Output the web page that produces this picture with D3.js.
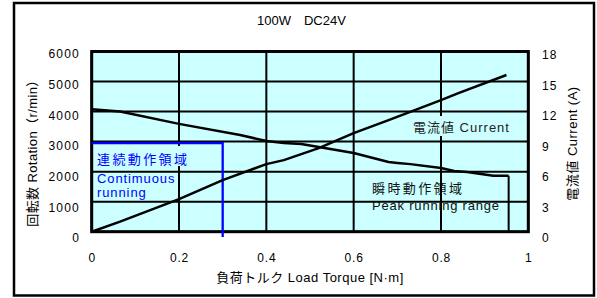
<!DOCTYPE html>
<html>
<head>
<meta charset="utf-8">
<script src="https://cdn.jsdelivr.net/npm/d3@7"></script>
<style>
body { margin: 0; background: #fff; }
text { font-family: "Liberation Sans", Arial, "Noto Sans CJK JP", sans-serif; fill: #000; }
</style>
</head>
<body>
<div id="chart"></div>
<script>
// Speed curve: rotation (r/min) against load torque (N·m)
const speedTorque = [0, 0.065, 0.2, 0.34, 0.4, 0.44, 0.48, 0.6, 0.68, 0.7, 0.73, 0.8, 0.83, 0.86, 0.92, 0.955];
const speedRpm = [4080, 4000, 3590, 3220, 3020, 2950, 2920, 2620, 2320, 2290, 2250, 2120, 2020, 1990, 1860, 1860];

// Current curve: current (A) against load torque (N·m)
const currentTorque = [0, 0.065, 0.2, 0.3, 0.4, 0.44, 0.52, 0.6, 0.68, 0.8, 0.84, 0.95];
const currentAmp = [0, 1.0, 3.25, 5.15, 6.75, 7.15, 8.35, 9.85, 11.15, 13.15, 13.85, 15.65];

// Regions
const continuousTorque = 0.3;
const continuousRpm = 2950;
const peakTorque = 0.955;

// Ticks
const xTicks = [0, 0.2, 0.4, 0.6, 0.8, 1];
const xTickLabels = ["0", "0.2", "0.4", "0.6", "0.8", "1"];
const rpmTicks = [0, 1000, 2000, 3000, 4000, 5000, 6000];
const ampTicks = [0, 3, 6, 9, 12, 15, 18];

const W = 597, H = 298;
const margin = { top: 51.5, right: W - 528.3, bottom: H - 231.7, left: 91.7 };
const width = W - margin.left - margin.right;
const height = H - margin.top - margin.bottom;

const svg = d3.select("#chart")
    .append("svg")
    .attr("width", W)
    .attr("height", H);

// outer frame
svg.append("rect")
    .attr("x", 14).attr("y", 3)
    .attr("width", 580).attr("height", 292.5)
    .attr("fill", "#fff")
    .attr("stroke", "#000")
    .attr("stroke-width", 2.5);

svg.append("text")
    .attr("x", 257).attr("y", 25)
    .style("font-size", "13px")
    .text("100W\u3000DC24V");

const g = svg.append("g")
    .attr("transform", `translate(${margin.left},${margin.top})`);

const x = d3.scaleLinear().domain([0, 1]).range([0, width]);
const yL = d3.scaleLinear().domain([0, 6000]).range([height, 0]);
const yR = d3.scaleLinear().domain([0, 18]).range([height, 0]);

// tick labels sit slightly off the gridlines in the original
const labelL = d3.scaleLinear().domain([0, 6000]).range([height + 6.3, 2.5]);
const labelR = d3.scaleLinear().domain([0, 18]).range([height + 6.3, 3.5]);

// plot background
g.append("rect")
    .attr("width", width).attr("height", height)
    .attr("fill", "#ccffff");

// peak region text (gridlines are drawn over it)
g.append("text")
    .attr("x", 372 - margin.left).attr("y", 193 - margin.top)
    .style("font-size", "13px").style("letter-spacing", "2.4px")
    .style("fill", "#111")
    .text("瞬時動作領域");
g.append("text")
    .attr("x", 372 - margin.left).attr("y", 210 - margin.top)
    .style("font-size", "13px").style("letter-spacing", "0.8px")
    .style("fill", "#111")
    .text("Peak running range");

// gridlines
g.selectAll(".hgrid")
    .data(rpmTicks)
    .enter()
    .append("line")
    .attr("class", "hgrid")
    .attr("x1", 0).attr("x2", width)
    .attr("y1", d => yL(d)).attr("y2", d => yL(d))
    .attr("stroke", "#000").attr("stroke-width", 2);

g.selectAll(".vgrid")
    .data(xTicks)
    .enter()
    .append("line")
    .attr("class", "vgrid")
    .attr("x1", d => x(d)).attr("x2", d => x(d))
    .attr("y1", 0).attr("y2", height)
    .attr("stroke", "#000").attr("stroke-width", 2);

g.append("rect")
    .attr("width", width).attr("height", height)
    .attr("fill", "none")
    .attr("stroke", "#000").attr("stroke-width", 3);

// continuous region
g.append("path")
    .attr("d", `M${x(0)},${yL(continuousRpm)}H${x(continuousTorque)}V${237 - margin.top}`)
    .attr("fill", "none")
    .attr("stroke", "#0000ff")
    .attr("stroke-width", 2.3);

g.append("rect")
    .attr("x", 94 - margin.left).attr("y", 146 - margin.top)
    .attr("width", 126).attr("height", 20)
    .attr("fill", "#ccffff");

g.append("text")
    .attr("x", 97 - margin.left).attr("y", 164 - margin.top)
    .style("font-size", "13px").style("letter-spacing", "2.4px")
    .style("fill", "#0000ff")
    .text("連続動作領域");
g.append("text")
    .attr("x", 97 - margin.left).attr("y", 182.5 - margin.top)
    .style("font-size", "13px").style("letter-spacing", "0.9px")
    .style("fill", "#0000ff")
    .text("Contimuous");
g.append("text")
    .attr("x", 97 - margin.left).attr("y", 197 - margin.top)
    .style("font-size", "13px").style("letter-spacing", "0.9px")
    .style("fill", "#0000ff")
    .text("running");

// current label box
g.append("rect")
    .attr("x", 409 - margin.left).attr("y", 116 - margin.top)
    .attr("width", 112).attr("height", 20)
    .attr("fill", "#ccffff");
g.append("text")
    .attr("x", 413 - margin.left).attr("y", 131.5 - margin.top)
    .style("font-size", "13px").style("letter-spacing", "1px")
    .style("fill", "#222")
    .text("電流値 Current");

// curves
const speedData = speedTorque.map((t, i) => ({ t: t, v: speedRpm[i] }));
const currentData = currentTorque.map((t, i) => ({ t: t, v: currentAmp[i] }));

g.append("path")
    .datum(speedData)
    .attr("fill", "none")
    .attr("stroke", "#000")
    .attr("stroke-width", 2.5)
    .attr("stroke-linejoin", "round")
    .attr("d", d3.line().x(d => x(d.t)).y(d => yL(d.v)));

g.append("line")
    .attr("x1", x(peakTorque)).attr("x2", x(peakTorque))
    .attr("y1", yL(speedRpm[speedRpm.length - 1])).attr("y2", yL(0))
    .attr("stroke", "#000").attr("stroke-width", 2);

g.append("path")
    .datum(currentData)
    .attr("fill", "none")
    .attr("stroke", "#000")
    .attr("stroke-width", 2.5)
    .attr("stroke-linejoin", "round")
    .attr("d", d3.line().x(d => x(d.t)).y(d => yR(d.v)));

// axes
const axisL = g.append("g")
    .attr("transform", `translate(${80 - margin.left},0)`)
    .call(d3.axisLeft(labelL).tickValues(rpmTicks).tickFormat(d3.format("d")).tickSize(0).tickPadding(0));
const axisR = g.append("g")
    .attr("transform", `translate(${542 - margin.left},0)`)
    .call(d3.axisRight(labelR).tickValues(ampTicks).tickFormat(d3.format("d")).tickSize(0).tickPadding(0));
const axisB = g.append("g")
    .attr("transform", `translate(0,${height})`)
    .call(d3.axisBottom(x).tickValues(xTicks).tickFormat((d, i) => xTickLabels[i]).tickSize(0));

[axisL, axisR, axisB].forEach(a => {
    a.select(".domain").remove();
    a.attr("font-family", null).attr("font-size", null);
    a.selectAll("text").style("font-size", "12px").style("fill", "#000");
});
axisL.selectAll("text").style("letter-spacing", "1.2px");
axisR.selectAll("text").style("letter-spacing", "1.2px");
axisB.selectAll("text").attr("dy", null).attr("y", 262 - 231.7).style("letter-spacing", "0.8px");

// axis titles
svg.append("text")
    .attr("transform", "translate(37,150) rotate(-90)")
    .attr("text-anchor", "middle")
    .style("font-size", "13px").style("letter-spacing", "0.4px")
    .text("回転数 Rotation（r/min）");

svg.append("text")
    .attr("transform", "translate(577,143.5) rotate(-90)")
    .attr("text-anchor", "middle")
    .style("font-size", "13px").style("letter-spacing", "0.5px")
    .text("電流値 Current (A)");

svg.append("text")
    .attr("x", 310).attr("y", 282)
    .attr("text-anchor", "middle")
    .style("font-size", "13px").style("letter-spacing", "0.5px")
    .text("負荷トルク Load Torque [N·m]");
</script>
</body>
</html>
